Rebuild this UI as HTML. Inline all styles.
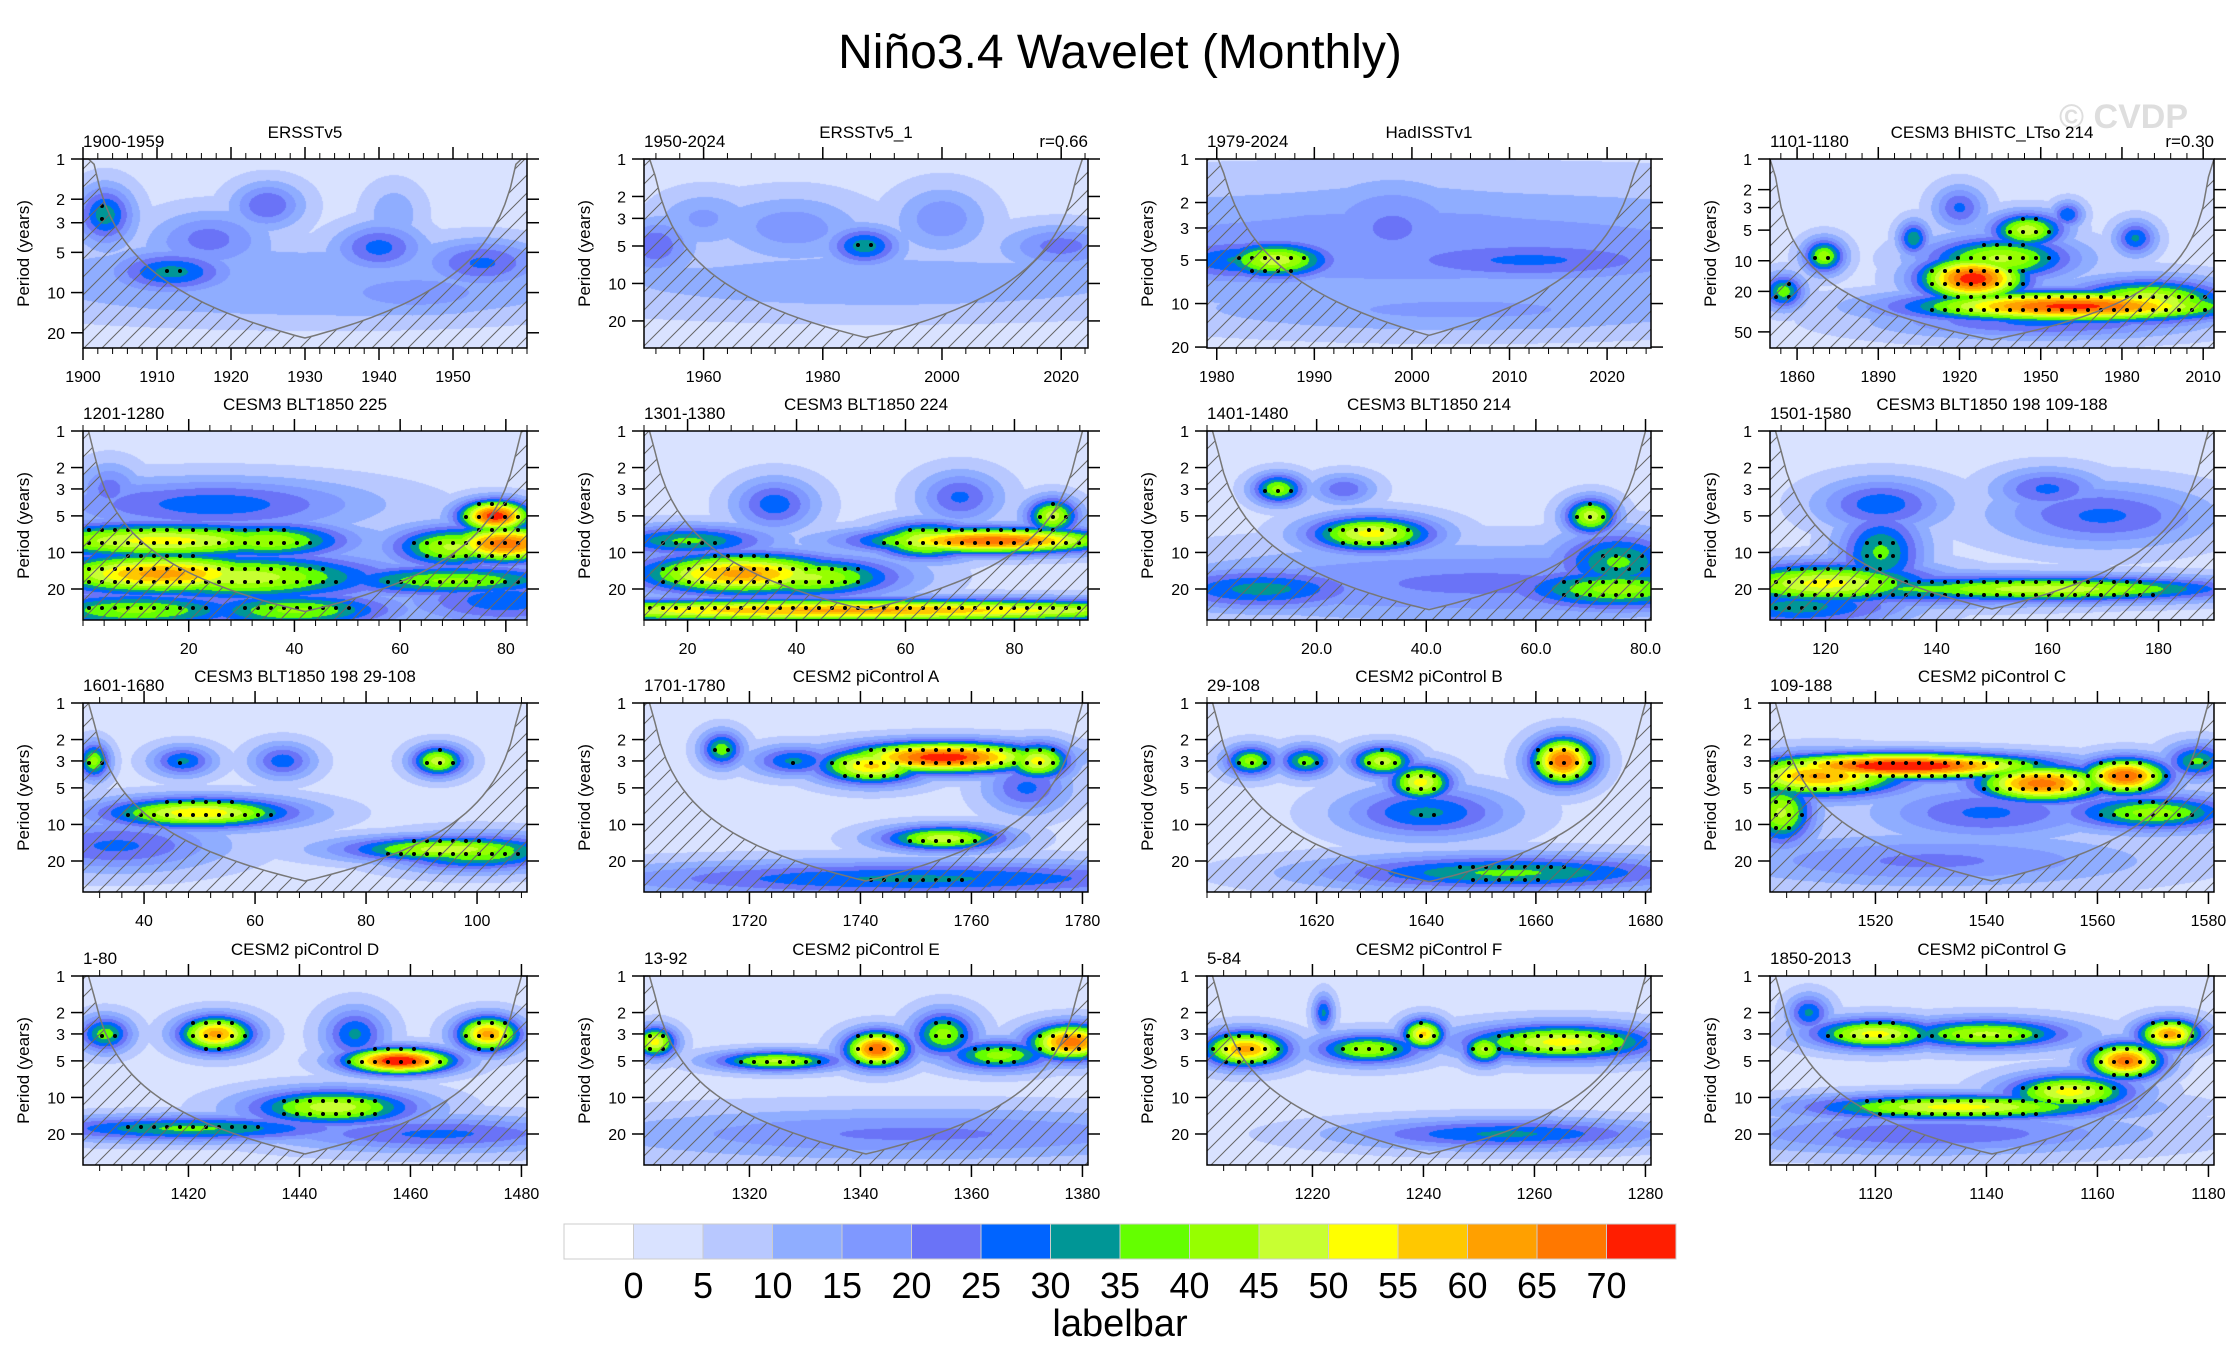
<!DOCTYPE html>
<html><head><meta charset="utf-8">
<style>
html,body{margin:0;padding:0;background:#fff;}
#wrap{position:relative;width:2240px;height:1367px;overflow:hidden;font-family:"Liberation Sans",sans-serif;}
canvas{position:absolute;}
svg{position:absolute;left:0;top:0;}
</style></head>
<body>
<div id="wrap">
<svg id="svg" width="2240" height="1367"></svg>
</div>
<script>
// ---------- data ----------
const titles=["ERSSTv5","ERSSTv5_1","HadISSTv1","CESM3 BHISTC_LTso 214",
"CESM3 BLT1850 225","CESM3 BLT1850 224","CESM3 BLT1850 214","CESM3 BLT1850 198 109-188",
"CESM3 BLT1850 198 29-108","CESM2 piControl A","CESM2 piControl B","CESM2 piControl C",
"CESM2 piControl D","CESM2 piControl E","CESM2 piControl F","CESM2 piControl G"];
const leftLabels=["1900-1959","1950-2024","1979-2024","1101-1180","1201-1280","1301-1380","1401-1480","1501-1580",
"1601-1680","1701-1780","29-108","109-188","1-80","13-92","5-84","1850-2013"];
const rightLabels=["","r=0.66","","r=0.30","","","","","","","","","","","",""];
const xMin=[1900,1950,1979,1850,0,12,0,110,29,1701,1600,1501,1401,1301,1201,1101];
const xMax=[1960,2024.5,2024.5,2014,84,93.5,81,190,109,1781,1681,1581,1481,1381,1281,1181];
const xTicks=[[1900,1910,1920,1930,1940,1950],[1960,1980,2000,2020],[1980,1990,2000,2010,2020],[1860,1890,1920,1950,1980,2010],
[20,40,60,80],[20,40,60,80],[20,40,60,80],[120,140,160,180],
[40,60,80,100],[1720,1740,1760,1780],[1620,1640,1660,1680],[1520,1540,1560,1580],
[1420,1440,1460,1480],[1320,1340,1360,1380],[1220,1240,1260,1280],[1120,1140,1160,1180]];
const xTickFmt=[0,0,0,0,0,0,1,0,0,0,0,0,0,0,0,0];
const yMax=[26,33,20.3,72,36,36,36,36,36,36,36,36,36,36,36,36];
const yTicks=[[1,2,3,5,10,20],[1,2,3,5,10,20],[1,2,3,5,10,20],[1,2,3,5,10,20,50]];
const yTicksRest=[1,2,3,5,10,20];
// blobs: [time, period, power, sigmaTime, sigmaLog10Period]
const blobs=[
[[1903,2.6,27,2,0.1],[1912,7,26,4,0.07],[1917,4,16,4,0.1],[1925,2.2,19,2.5,0.08],[1940,4.6,21,3,0.08],[1954,6,20,4,0.08],[1930,10,9,20,0.1],[1945,10,12,7,0.08],[1930,7,7,30,0.1],[1942,2.5,8,2,0.1]],
[[1987,5,27,3,0.07],[1952,5,18,3,0.1],[1975,3.5,12,6,0.12],[2000,3,13,4,0.12],[2020,5,16,5,0.08],[1990,10,8,30,0.12],[1960,3,10,4,0.1]],
[[1986,5,42,3,0.06],[1983,5,25,5,0.07],[2012,5,20,9,0.07],[1998,3,15,4,0.15],[2005,11,10,15,0.08],[2000,4,12,30,0.2]],
[[1925,15,68,10,0.1],[1962,28,66,30,0.07],[1945,5,42,7,0.08],[1935,9.5,40,14,0.1],[1990,25,45,15,0.1],[1870,9,37,4,0.08],[1903,6,28,3,0.08],[1920,3,20,5,0.1],[1985,6,25,4,0.08],[1960,3.5,24,3,0.06],[1855,20,32,4,0.08],[1950,40,20,30,0.08]],
[[15,8,46,16,0.07],[35,8,38,8,0.07],[15,15,56,12,0.08],[30,16,42,14,0.09],[78,5,68,3.5,0.06],[80,8.5,63,6,0.07],[70,9,40,6,0.08],[25,4,22,15,0.1],[5,3,16,3,0.1],[70,17,35,12,0.06],[10,30,35,12,0.07],[40,30,35,10,0.07],[80,25,22,10,0.1]],
[[30,15,56,10,0.08],[42,16,40,9,0.08],[76,8,63,12,0.05],[64,8,45,5,0.07],[87,5,42,2.5,0.07],[50,30,55,40,0.045],[36,4,22,4,0.1],[70,3.5,20,4,0.1],[20,8,30,8,0.06]],
[[30,7,46,6,0.07],[13,3,36,2.5,0.06],[70,5,42,2.5,0.07],[75,12,30,6,0.12],[75,20,36,10,0.08],[10,20,26,10,0.08],[50,18,15,30,0.15],[25,3,18,3,0.06]],
[[120,18,46,10,0.08],[160,20,42,18,0.05],[140,20,30,20,0.06],[130,10,30,4,0.15],[170,5,20,10,0.12],[130,4,22,6,0.1],[115,28,26,10,0.08],[160,3,20,5,0.08]],
[[50,8,48,9,0.06],[95,16,42,10,0.05],[100,17,35,8,0.07],[93,3,42,2.5,0.06],[31,3,36,1.5,0.07],[47,3,25,3,0.06],[65,3,22,3,0.07],[35,15,20,10,0.1]],
[[1755,2.8,68,9,0.06],[1742,3.3,50,5,0.07],[1772,3,46,3,0.07],[1755,13,42,6,0.05],[1715,2.4,32,2,0.07],[1770,5,20,4,0.1],[1750,28,25,30,0.07],[1728,3,25,4,0.06]],
[[1665,3,64,3,0.09],[1632,3,42,3,0.06],[1639,4.5,46,3,0.07],[1608,3,36,2.5,0.06],[1618,3,32,2.5,0.06],[1640,8,25,8,0.1],[1655,25,30,18,0.07]],
[[1525,3.3,72,13,0.05],[1510,4,55,8,0.08],[1550,4.6,62,6,0.07],[1565,4,64,4,0.07],[1503,8,40,3,0.12],[1570,8,36,8,0.07],[1540,8,20,10,0.1],[1530,20,15,20,0.1],[1578,3,30,3,0.07]],
[[1458,5,71,5,0.05],[1425,3,56,3.5,0.07],[1474,3,56,3,0.07],[1446,12,42,8,0.07],[1420,18,30,15,0.05],[1405,3,32,2.5,0.07],[1450,3,25,3,0.1],[1465,20,20,15,0.07]],
[[1343,4,64,3,0.07],[1378,3.5,62,4,0.07],[1303,3.5,46,2,0.06],[1325,5,40,6,0.04],[1355,3,36,3,0.09],[1365,4.5,36,5,0.06],[1350,20,15,30,0.1]],
[[1208,4,56,4,0.07],[1240,3,50,2,0.06],[1265,3.5,46,9,0.07],[1230,4,38,5,0.06],[1251,4,40,2,0.06],[1255,20,25,15,0.06],[1222,2,25,1,0.07]],
[[1165,5,62,3.5,0.07],[1173,3,56,3,0.06],[1120,3,46,6,0.06],[1140,3,40,8,0.06],[1135,12,46,14,0.05],[1155,9,46,6,0.07],[1108,2,25,2,0.07],[1130,20,18,20,0.08]]
];
const levelColors=["#ffffff","#d9e2ff","#b8c8ff","#8fadff","#7f98ff","#6a73f7","#0064ff","#009696","#64ff00","#96ff00","#c8ff32","#ffff00","#ffc800","#ffa000","#ff7800","#ff1e00"];
const levelLabels=["0","5","10","15","20","25","30","35","40","45","50","55","60","65","70"];

// ---------- layout ----------
const colL=[83,644,1207,1770], rowT=[159,431,703,976], PW=444, PH=189;
const SVGNS="http://www.w3.org/2000/svg";
const svg=document.getElementById('svg');
const wrap=document.getElementById('wrap');
function mk(tag,attrs,parent){const e=document.createElementNS(SVGNS,tag);for(const k in attrs)e.setAttribute(k,attrs[k]);(parent||svg).appendChild(e);return e;}
function txt(s,attrs,parent){const e=mk('text',attrs,parent);e.textContent=s;return e;}

const defs=mk('defs',{});
const pat=mk('pattern',{id:'hatch',patternUnits:'userSpaceOnUse',width:18,height:18},defs);
mk('path',{d:'M0,18 L18,0 M-4,4 L4,-4 M14,22 L22,14',stroke:'#666',"stroke-width":1},pat);

const t0=txt("Niño3.4 Wavelet (Monthly)",{x:1120,y:68,"font-size":48,"text-anchor":"middle",fill:"#000"});


const wm=txt("© CVDP",{x:2188,y:128,"font-size":34,"font-weight":"bold","text-anchor":"end",fill:"#dedede"});



const ST=1.35, SL=1.5;
function power(i,t,p){
  let v=3, extra=0;
  for(const b of blobs[i]){
    const dt=(t-b[0])/(b[3]*ST), dl=(Math.log10(p)-Math.log10(b[1]))/(b[4]*SL);
    const e=Math.exp(-0.5*(dt*dt+dl*dl));
    const g=3+b[2]*e;
    if(g>v)v=g;
    extra+=3*e;
  }
  return v+Math.min(extra,3);
}
function colorIdx(v){let k=Math.floor(v/5)+1;if(k<0)k=0;if(k>15)k=15;return k;}
function hexRgb(h){return [parseInt(h.substr(1,2),16),parseInt(h.substr(3,2),16),parseInt(h.substr(5,2),16)];}
const rgbs=levelColors.map(hexRgb);

for(let i=0;i<16;i++){
  const r=Math.floor(i/4), c=i%4, L=colL[c], T=rowT[r];
  const x0=xMin[i], x1=xMax[i], ym=yMax[i];
  const xOf=t=>L+(t-x0)/(x1-x0)*PW;
  const yOf=p=>T+PH*Math.log(p)/Math.log(ym);
  const tOf=x=>x0+(x-L)/PW*(x1-x0);
  const pOf=y=>Math.exp((y-T)/PH*Math.log(ym));
  const g=mk('g',{});
  
  
  const cv=document.createElement('canvas');
  cv.width=PW;cv.height=PH;cv.style.left=L+'px';cv.style.top=T+'px';
  
  
  wrap.insertBefore(cv,svg);
  const ctx=cv.getContext('2d');const img=ctx.createImageData(PW,PH);
  for(let y=0;y<PH;y++){const p=pOf(T+y+0.5);for(let x=0;x<PW;x++){const v=power(i,tOf(L+x+0.5),p);const col=rgbs[colorIdx(v)];const o=(y*PW+x)*4;img.data[o]=col[0];img.data[o+1]=col[1];img.data[o+2]=col[2];img.data[o+3]=255;}}
  ctx.putImageData(img,0,0);
  for(let y=T+8;y<T+PH-4;y+=13){for(let x=L+6;x<L+PW-3;x+=13){
    const t=tOf(x), p=pOf(y); if(power(i,t,p)>=30){const d=mk('circle',{cx:x,cy:y,r:2,fill:'#000'},g);
    
    }}}
  let pts=[], linePts=[];
  const N=80;
  for(let k=0;k<=N;k++){const t=x0+(x1-x0)*k/N;let p=0.73*Math.min(t-x0,x1-t);if(p<1)p=1;if(p>ym)p=ym;const px=xOf(t),py=yOf(p);linePts.push(px.toFixed(1)+','+py.toFixed(1));}
  pts=[L+','+(T+PH)].concat(linePts).concat([(L+PW)+','+(T+PH)]);
  const h=mk('polygon',{points:pts.join(' '),fill:'url(#hatch)',stroke:'none'},g);
  
  
  const cl=mk('polyline',{points:linePts.join(' '),fill:'none',stroke:'#777',"stroke-width":1.5},g);
  
  
  const fr=mk('rect',{x:L,y:T,width:PW,height:PH,fill:'none',stroke:'#000',"stroke-width":1.5},g);
  
  
  const yt=i<4?yTicks[i]:yTicksRest;
  for(const p of yt){if(p>ym)continue;const y=yOf(p);
    mk('line',{x1:L-12,x2:L,y1:y,y2:y,stroke:'#000',"stroke-width":1.5},g);
    mk('line',{x1:L+PW,x2:L+PW+12,y1:y,y2:y,stroke:'#000',"stroke-width":1.5},g);
    const tl=txt(String(p),{x:L-18,y:y+6,"font-size":16,"text-anchor":"end"},g);
    
    }
  const ya=txt("Period (years)",{x:0,y:0,"font-size":17,"text-anchor":"middle",transform:`translate(${L-54},${T+PH/2}) rotate(-90)`},g);
  
  
  const minorStep=xTicks[i].length>1?(xTicks[i][1]-xTicks[i][0])/5:1;
  for(let m=Math.ceil(x0/minorStep)*minorStep;m<=x1;m+=minorStep){const x=xOf(m);
    mk('line',{x1:x,x2:x,y1:T+PH,y2:T+PH+6,stroke:'#000',"stroke-width":1},g);
    mk('line',{x1:x,x2:x,y1:T-6,y2:T,stroke:'#000',"stroke-width":1},g);}
  for(const t of xTicks[i]){const x=xOf(t);
    mk('line',{x1:x,x2:x,y1:T+PH,y2:T+PH+12,stroke:'#000',"stroke-width":1.5},g);
    mk('line',{x1:x,x2:x,y1:T-12,y2:T,stroke:'#000',"stroke-width":1.5},g);
    const xl=txt(xTickFmt[i]?t.toFixed(1):String(t),{x:x,y:T+PH+34,"font-size":16,"text-anchor":"middle"},g);
    
    }
  const ct=txt(titles[i],{x:L+PW/2,y:T-21,"font-size":17,"text-anchor":"middle"},g);
  
  
  const lt=txt(leftLabels[i],{x:L,y:T-12,"font-size":17,"text-anchor":"start"},g);
  
  
  if(rightLabels[i]){const rt=txt(rightLabels[i],{x:L+PW,y:T-12,"font-size":17,"text-anchor":"end"},g);
    
    }
}
const cbL=564,cbR=1676,cbT=1224,cbH=35,bw=(cbR-cbL)/levelColors.length;
const cb=mk('g',{});


levelColors.forEach((col,k)=>{const r=mk('rect',{x:cbL+k*bw,y:cbT,width:bw,height:cbH,fill:col,stroke:'#ccc',"stroke-width":1},cb);
  
  });
levelLabels.forEach((s,k)=>{const t=txt(s,{x:cbL+(k+1)*bw,y:1298,"font-size":36,"text-anchor":"middle"},cb);
  
  });
const lb=txt("labelbar",{x:1120,y:1336,"font-size":38,"text-anchor":"middle"},cb);


</script>
</body></html>
